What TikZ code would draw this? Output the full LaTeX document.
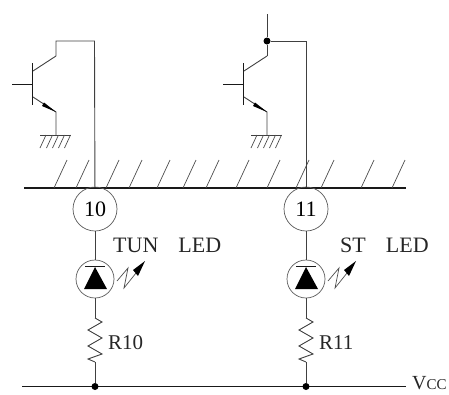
\documentclass[tikz,border=0pt]{standalone}
\usepackage{fontspec}
\setmainfont{Liberation Serif}
\newcommand{\lbl}{\fontsize{22}{24}\selectfont}
\tikzset{
  wire/.style={line width=0.9pt,draw=black!75},
  thin wire/.style={line width=0.7pt,draw=black!70},
  busline/.style={line width=1.9pt,draw=black!90},
  rail/.style={line width=0.9pt,draw=black!90},
  pinc/.style={circle,draw=black!65,line width=0.7pt,minimum size=44pt,inner sep=0pt,font=\lbl},
  ledc/.style={circle,draw=black!65,line width=0.7pt,minimum size=38pt,inner sep=0pt},
  dotn/.style={circle,fill=black,inner sep=0pt,minimum size=7pt},
  txt/.style={inner sep=0pt,font=\lbl,text=black!85,anchor=base west},
}
\begin{document}
\begin{tikzpicture}[x=1pt,y=-1pt]
\useasboundingbox (0,0) rectangle (449,394);
% rails
\coordinate (busL) at (24,188); \coordinate (busR) at (406,188);
\draw[busline] (busL) -- (busR);
\coordinate (vL) at (22,386.5); \coordinate (vR) at (406,386.5);
\draw[rail] (vL) -- (vR);
\foreach \x in {54,76,106,129,157,183,206,236,267,296,321,361,392}
  \draw[thin wire] (\x,188) -- ++(13,-28);
\foreach \o/\p/\num/\res in {0/a/10/R10,211/b/11/R11}{
  \begin{scope}[xshift=\o pt]
    % transistor
    \coordinate (bi\p) at (12,84.5);
    \coordinate (bb\p) at (32.5,84.5);
    \coordinate (bt\p) at (32.5,63);
    \coordinate (bd\p) at (32.5,104.5);
    \draw[rail] (bi\p) -- (bb\p);
    \draw[rail] (bt\p) -- (bd\p);
    \coordinate (c\p) at (56,56);
    \coordinate (e\p) at (56,112);
    \coordinate (g\p) at (56,135);
    \draw[wire] (33,71) -- (c\p);
    \draw[wire] (33,97) -- (e\p) -- (g\p);
    \fill (e\p) -- (42,106) -- (44,102.5) -- cycle;
    % ground
    \draw[wire] (40,135) -- (71,135);
    \foreach \x in {40,46.5,52.5,58.5,64.5}
      \draw[thin wire] (\x,148) -- ++(6,-13);
    % pin, LED, resistor
    \node[pinc] (pin\p) at (95,209) {\num};
    \node[ledc] (led\p) at (95,279) {};
    \coordinate (rt\p) at (95,318);
    \coordinate (rb\p) at (95,362);
    \node[dotn] (j\p) at (95,386.5) {};
    \draw[wire] (pin\p) -- (led\p);
    \draw[wire] (led\p) -- (rt\p);
    \draw[wire] (rt\p) -- (102,322) -- (88,330) -- (102,338) -- (88,346) -- (102,354) -- (88,359) -- (rb\p);
    \draw[wire] (rb\p) -- (j\p);
    \fill (95,267) -- (107,289) -- (84,289) -- cycle;
    \draw[rail] (85,266.5) -- (105,266.5);
    % light arrow
    \draw[thin wire] (117,281) -- (128,268) -- (124,288) -- (136,273);
    \fill (145,261) -- (138,276) -- (133,270) -- cycle;
    \node[txt,font=\fontsize{21}{24}\selectfont] at (108,349) {\res};
  \end{scope}
}
% collector connections
\coordinate (ta) at (56,41); \coordinate (ra) at (94.5,41);
\draw[wire] (ca) -- (ta) -- (ra) -- (pina);
\node[dotn] (jt) at (267,41) {};
\coordinate (tt) at (267,14); \coordinate (rb2) at (306,41);
\draw[wire] (tt) -- (jt);
\draw[wire] (jt) -- (cb);
\draw[wire] (jt) -- (rb2) -- (pinb);
% labels
\node[txt] at (113,252) {TUN\hspace{20pt}LED};
\node[txt] at (340,252) {ST\hspace{20pt}LED};
\node[txt] at (412,389.5) {\fontsize{20}{24}\selectfont V{\fontsize{15}{18}\selectfont CC}};
\end{tikzpicture}
\end{document}
